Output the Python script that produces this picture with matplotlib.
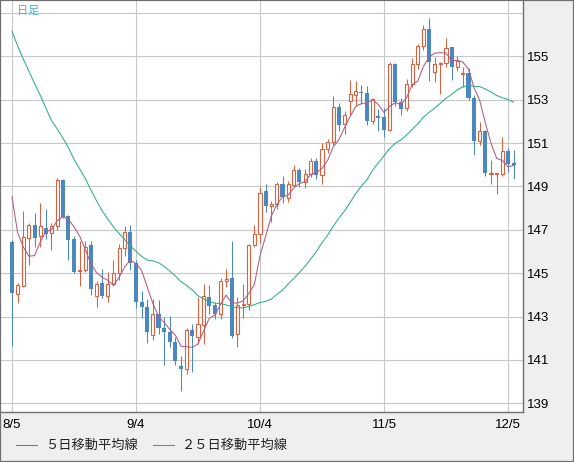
import numpy as np
import pandas as pd
import matplotlib
matplotlib.use("Agg")
import matplotlib.pyplot as plt
from matplotlib.lines import Line2D
from matplotlib.patches import Rectangle

# x tick positions (trading-day index) and labels
tick_idx = [0, 22, 44, 66, 88]
tick_labels = ["8/5", "9/4", "10/4", "11/5", "12/5"]

# closes before the first drawn candle (only feed the moving averages)
prior_closes = [161.45, 161.70, 161.20, 160.75, 160.80, 161.35, 161.70, 158.90,
                157.85, 158.05, 158.35, 156.20, 157.40, 157.50, 157.00, 155.60,
                153.90, 153.90, 153.75, 154.00, 152.70, 149.95, 149.35, 146.50]

opens = [146.45, 144.02, 144.42, 146.63, 147.20, 146.71, 147.10, 146.86, 147.19, 149.28,
         147.62, 146.56, 145.10, 145.13, 146.28, 143.97, 144.54, 143.96, 144.48, 144.99,
         146.14, 146.92, 145.45, 143.68, 143.45, 142.17, 143.14, 142.45, 142.30, 141.84,
         140.70, 140.60, 142.37, 142.07, 142.59, 143.88, 143.53, 143.13, 144.62, 144.76,
         142.21, 143.55, 143.58, 146.31, 146.82, 148.77, 148.09, 148.20, 149.12, 148.46,
         149.08, 149.74, 149.20, 149.56, 150.15, 149.51, 150.73, 151.05, 152.66, 151.90,
         152.96, 153.23, 153.37, 153.31, 152.00, 152.26, 152.19, 151.59, 154.65, 152.90,
         152.62, 153.71, 154.63, 155.46, 156.28, 154.28, 154.66, 154.69, 155.42, 154.52,
         154.20, 154.25, 153.10, 151.09, 151.55, 149.57, 149.57, 149.57, 150.63, 150.09]

highs = [146.53, 144.55, 147.86, 147.30, 147.77, 148.23, 147.94, 147.30, 149.40, 149.35,
         147.70, 146.70, 146.48, 146.48, 146.48, 144.62, 145.20, 145.06, 145.60, 146.34,
         147.18, 147.23, 145.60, 144.20, 143.80, 143.80, 143.76, 143.00, 143.03, 142.05,
         141.20, 142.45, 142.65, 143.90, 144.48, 144.44, 143.67, 144.80, 145.20, 146.48,
         143.90, 144.50, 146.35, 147.20, 148.97, 149.12, 148.35, 149.20, 149.50, 149.25,
         149.97, 149.86, 149.80, 150.30, 150.30, 151.00, 151.20, 153.19, 152.85, 152.46,
         153.89, 153.88, 153.70, 153.62, 153.10, 152.59, 152.60, 154.72, 154.70, 153.10,
         153.97, 154.90, 155.58, 156.43, 156.78, 154.97, 154.75, 155.86, 155.45, 155.00,
         154.52, 154.45, 153.20, 151.98, 151.60, 150.20, 149.60, 151.26, 150.75, 150.68]

lows = [141.66, 143.64, 144.35, 145.38, 146.20, 146.20, 146.56, 146.08, 146.97, 147.55,
        145.60, 145.00, 144.40, 145.05, 143.98, 143.44, 143.85, 143.68, 144.40, 144.70,
        145.80, 145.14, 143.40, 142.93, 141.76, 141.90, 142.20, 140.76, 141.60, 140.76,
        139.56, 140.35, 140.45, 141.75, 141.72, 143.13, 142.90, 142.90, 144.36, 142.00,
        141.60, 142.95, 143.28, 146.20, 146.40, 147.82, 147.36, 147.94, 148.23, 148.30,
        149.00, 148.97, 148.93, 149.45, 149.33, 149.10, 150.55, 150.90, 151.54, 151.43,
        152.30, 152.77, 152.80, 151.82, 151.90, 151.54, 151.30, 151.55, 152.70, 152.30,
        152.50, 153.60, 154.40, 155.30, 153.85, 153.82, 153.28, 154.50, 153.90, 154.30,
        153.60, 152.98, 150.45, 150.90, 149.48, 149.10, 148.63, 149.50, 149.65, 149.34]

closes = [144.07, 144.47, 146.68, 147.20, 146.63, 147.16, 146.82, 147.19, 149.28, 147.59,
          146.54, 145.05, 145.13, 146.20, 144.28, 144.49, 143.93, 144.48, 144.99, 146.14,
          146.92, 145.45, 143.68, 143.45, 142.30, 143.14, 142.45, 142.30, 141.84, 140.96,
          140.60, 142.37, 142.11, 142.65, 143.97, 143.48, 143.13, 144.62, 144.74, 142.10,
          143.54, 143.60, 146.31, 146.82, 148.68, 148.09, 148.20, 149.09, 148.51, 149.12,
          149.74, 149.20, 149.56, 150.15, 149.51, 150.73, 151.05, 152.66, 151.82, 152.31,
          153.28, 153.40, 153.29, 152.00, 153.03, 152.16, 151.59, 154.65, 152.90, 152.57,
          153.71, 154.63, 155.46, 156.28, 154.72, 154.66, 154.70, 155.40, 154.52, 154.80,
          154.24, 153.09, 151.09, 151.55, 149.63, 149.60, 149.60, 150.63, 150.03, 149.97]

UP = "#D9613F"
DOWN = "#4A88C0"
MA5_COL = "#B35A84"
MA25_COL = "#2EAF7D"
GRID = "#C8C8C8"
FRAME = "#6E6E6E"

W, H = 574, 462
fig = plt.figure(figsize=(W / 100, H / 100), dpi=100, facecolor="#EFEFEF")
ax = fig.add_axes([1 / W, 50 / H, 522 / W, 411 / H])
ax.set_facecolor("white")

o = np.array(opens)
h = np.array(highs)
l = np.array(lows)
c = np.array(closes)
x = np.arange(len(c))
up = c >= o

# moving averages from closes
s = pd.Series(prior_closes + closes)
ma5 = s.rolling(5).mean().to_numpy()[len(prior_closes):]
ma25 = s.rolling(25).mean().to_numpy()[len(prior_closes):]

# wicks
ax.vlines(x[up], l[up], h[up], color=UP, lw=0.75, zorder=2)
ax.vlines(x[~up], l[~up], h[~up], color=DOWN, lw=0.75, zorder=2)

# bodies
body_lo = np.minimum(o, c)
body_h = np.maximum(np.abs(c - o), 0.04)
ax.bar(x[up], body_h[up], bottom=body_lo[up], width=0.55, facecolor="white",
       edgecolor=UP, linewidth=0.8, zorder=3)
ax.bar(x[~up], body_h[~up], bottom=body_lo[~up], width=0.72, color=DOWN,
       linewidth=0, zorder=3)

ax.plot(x, ma25, color=MA25_COL, lw=0.75, zorder=4)
ax.plot(x, ma5, color=MA5_COL, lw=0.75, zorder=4)

ax.set_xlim(-1.95, 90.67)
ax.set_ylim(138.60, 157.55)

ax.set_xticks(tick_idx)
ax.set_xticklabels(tick_labels)
yt = list(range(139, 158, 2))
ax.set_yticks(yt)
ax.set_yticklabels([str(v) if v < 157 else "" for v in yt])
ax.yaxis.tick_right()
ax.tick_params(axis="both", length=0, labelsize=9.5, labelcolor="black")
ax.tick_params(axis="y", pad=3)
ax.tick_params(axis="x", pad=5)
for lab in ax.get_xticklabels() + ax.get_yticklabels():
    lab.set_family("Liberation Sans")

ax.grid(True, color=GRID, lw=0.8)
ax.set_axisbelow(True)
for side in ["left", "top"]:
    ax.spines[side].set_visible(False)
for side in ["right", "bottom"]:
    ax.spines[side].set_color(FRAME)
    ax.spines[side].set_linewidth(1.0)

ax.text(16 / 522, 1 - 10 / 411, "日足", transform=ax.transAxes, color="#3CB0E8",
        fontsize=8, family=["Noto Sans CJK JP", "DejaVu Sans"], va="center", ha="left")

# legend at the bottom
ly = 1 - 445 / H
fig.add_artist(Line2D([16 / W, 37 / W], [ly, ly], color=MA5_COL, lw=0.75))
fig.text(45 / W, ly, "５日移動平均線", fontsize=9.5, va="center", ha="left",
         family=["Noto Sans CJK JP", "DejaVu Sans"], color="#222222")
fig.add_artist(Line2D([153 / W, 174 / W], [ly, ly], color=MA25_COL, lw=0.75))
fig.text(182 / W, ly, "２５日移動平均線", fontsize=9.5, va="center", ha="left",
         family=["Noto Sans CJK JP", "DejaVu Sans"], color="#222222")

fig.add_artist(Rectangle((0, 0), 1, 1, transform=fig.transFigure, fill=False,
                         edgecolor=FRAME, lw=1.6))

fig.savefig("out.png", dpi=100, facecolor=fig.get_facecolor())
